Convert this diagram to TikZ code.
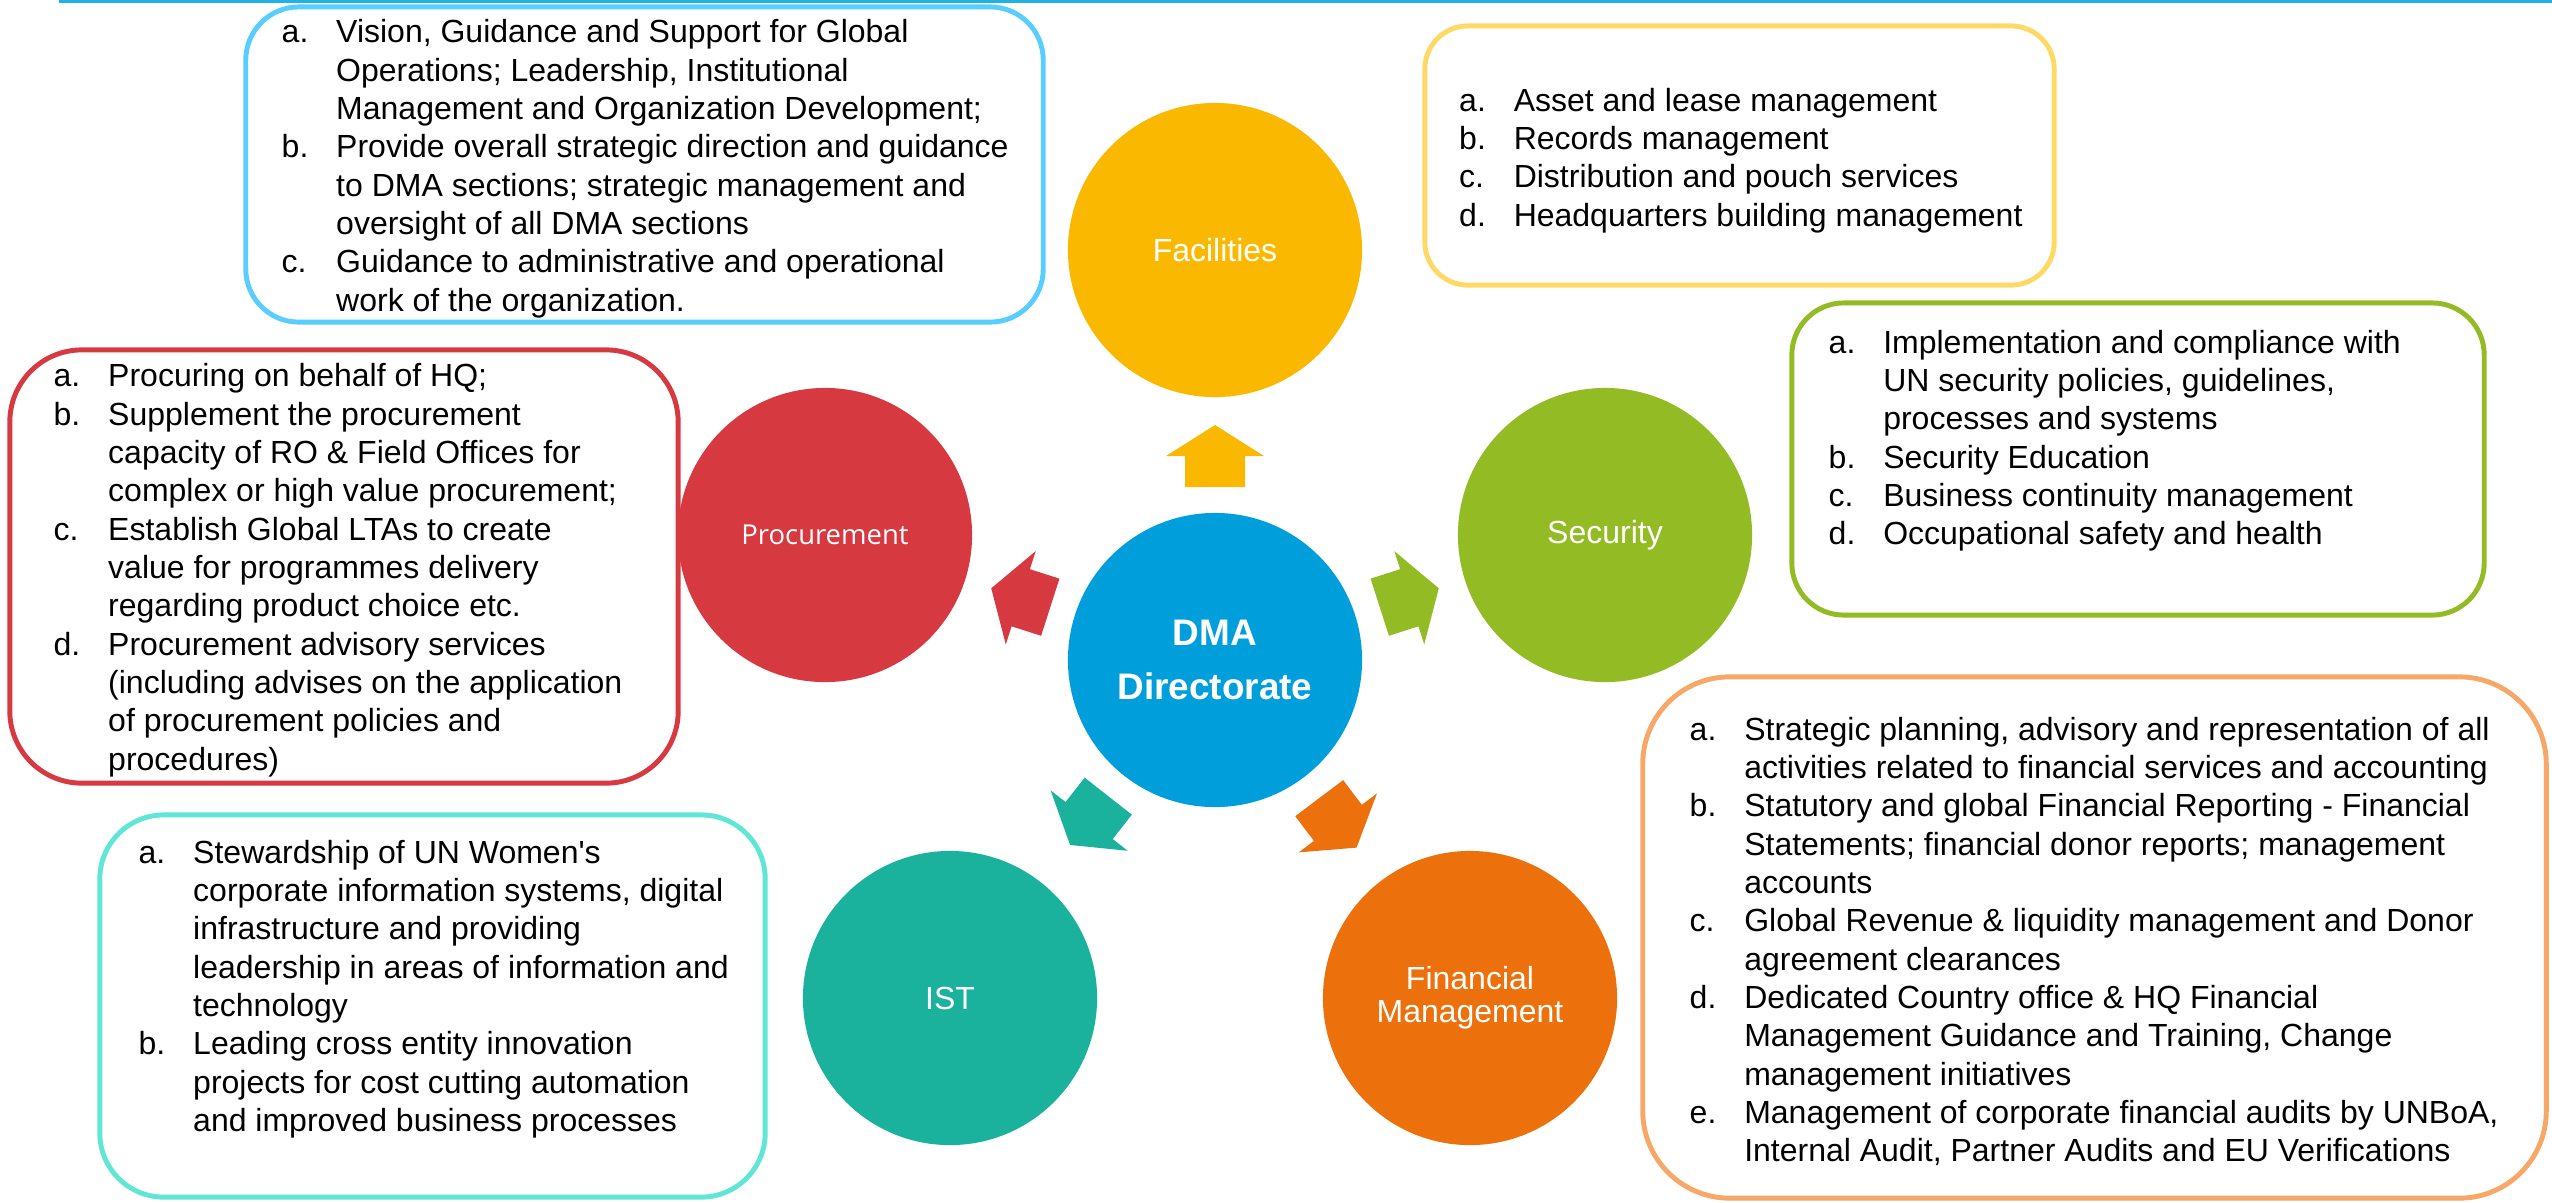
\documentclass[tikz,border=0pt]{standalone}
\usepackage{fontspec}
\setmainfont{Liberation Sans}
\newfontfamily\osans{Open Sans}
\definecolor{cFac}{RGB}{250,185,0}
\definecolor{cProc}{RGB}{214,58,64}
\definecolor{cSec}{RGB}{146,187,36}
\definecolor{cDMA}{RGB}{0,158,219}
\definecolor{cIST}{RGB}{27,178,157}
\definecolor{cFM}{RGB}{236,112,12}
\definecolor{bTop}{RGB}{88,205,255}
\definecolor{bFac}{RGB}{255,217,102}
\definecolor{bProc}{RGB}{214,58,64}
\definecolor{bSec}{RGB}{146,187,36}
\definecolor{bIST}{RGB}{96,230,214}
\definecolor{bFM}{RGB}{247,168,104}
\definecolor{cLine}{RGB}{32,178,230}
\newcommand\itm[1]{\makebox[0.545cm][l]{#1}}
\newcommand\blockarrow[3]{%
  \fill[#3, shift={(#1.center)}, rotate=#2] (173,-30) -- (204,-30) -- (204,-49) -- (235,0) -- (204,49) -- (204,30) -- (173,30) -- cycle;}
\begin{document}
\begin{tikzpicture}[x=0.01cm,y=-0.01cm,
  circ/.style={circle, inner sep=0, minimum size=2.94cm, text=white, font=\fontsize{9.1}{9.4}\selectfont, align=center},
  box/.style={draw, line width=1.4pt, fill=white, inner sep=0, rectangle},
  txt/.style={anchor=base west, inner sep=0, font=\fontsize{9.1}{10.9}\selectfont}]
\useasboundingbox (0,0) rectangle (2552,1202);
\coordinate (lineA) at (59,1);
\coordinate (lineB) at (2552,1);
\draw[cLine, line width=0.9pt] (lineA) -- (lineB);

% boxes
\node[box, draw=bTop, minimum width=7.97cm, minimum height=3.15cm, rounded corners=0.53cm] (topBox) at (644.5,164.5) {};
\node[box, draw=bFac, minimum width=6.29cm, minimum height=2.59cm, rounded corners=0.43cm] (facBox) at (1739.5,155.5) {};
\node[box, draw=bProc, minimum width=6.68cm, minimum height=4.33cm, rounded corners=0.72cm] (procBox) at (344,566.5) {};
\node[box, draw=bSec, minimum width=6.92cm, minimum height=3.12cm, rounded corners=0.52cm] (secBox) at (2138,459) {};
\node[box, draw=bIST, minimum width=6.65cm, minimum height=3.82cm, rounded corners=0.64cm] (istBox) at (432.5,1006) {};
\node[box, draw=bFM, minimum width=9.03cm, minimum height=5.21cm, rounded corners=0.87cm] (fmBox) at (2094.5,937.5) {};

% box texts
\node[txt] (topTxt) at (281,42.7) {\begin{tabular}[t]{@{}l@{}}
\itm{a.}Vision, Guidance and Support for Global\\
\itm{}Operations; Leadership, Institutional\\
\itm{}Management and Organization Development;\\
\itm{b.}Provide overall strategic direction and guidance\\
\itm{}to DMA sections; strategic management and\\
\itm{}oversight of all DMA sections\\
\itm{c.}Guidance to administrative and operational\\
\itm{}work of the organization.
\end{tabular}};
\node[txt] (facTxt) at (1458.5,111) {\begin{tabular}[t]{@{}l@{}}
\itm{a.}Asset and lease management\\
\itm{b.}Records management\\
\itm{c.}Distribution and pouch services\\
\itm{d.}Headquarters building management
\end{tabular}};
\node[txt] (procTxt) at (53,386.7) {\begin{tabular}[t]{@{}l@{}}
\itm{a.}Procuring on behalf of HQ;\\
\itm{b.}Supplement the procurement\\
\itm{}capacity of RO \& Field Offices for\\
\itm{}complex or high value procurement;\\
\itm{c.}Establish Global LTAs to create\\
\itm{}value for programmes delivery\\
\itm{}regarding product choice etc.\\
\itm{d.}Procurement advisory services\\
\itm{}(including advises on the application\\
\itm{}of procurement policies and\\
\itm{}procedures)
\end{tabular}};
\node[txt] (secTxt) at (1828,353) {\begin{tabular}[t]{@{}l@{}}
\itm{a.}Implementation and compliance with\\
\itm{}UN security policies, guidelines,\\
\itm{}processes and systems\\
\itm{b.}Security Education\\
\itm{c.}Business continuity management\\
\itm{d.}Occupational safety and health
\end{tabular}};
\node[txt] (istTxt) at (138,863) {\begin{tabular}[t]{@{}l@{}}
\itm{a.}Stewardship of UN Women\textquotesingle s\\
\itm{}corporate information systems, digital\\
\itm{}infrastructure and providing\\
\itm{}leadership in areas of information and\\
\itm{}technology\\
\itm{b.}Leading cross entity innovation\\
\itm{}projects for cost cutting automation\\
\itm{}and improved business processes
\end{tabular}};
\node[txt] (fmTxt) at (1689,740) {\begin{tabular}[t]{@{}l@{}}
\itm{a.}Strategic planning, advisory and representation of all\\
\itm{}activities related to financial services and accounting\\
\itm{b.}Statutory and global Financial Reporting - Financial\\
\itm{}Statements; financial donor reports; management\\
\itm{}accounts\\
\itm{c.}Global Revenue \& liquidity management and Donor\\
\itm{}agreement clearances\\
\itm{d.}Dedicated Country office \& HQ Financial\\
\itm{}Management Guidance and Training, Change\\
\itm{}management initiatives\\
\itm{e.}Management of corporate financial audits by UNBoA,\\
\itm{}Internal Audit, Partner Audits and EU Verifications
\end{tabular}};

% circles
\node[circ, fill=cDMA, font=\bfseries\fontsize{10.5}{15.4}\selectfont] (dma) at (1215,660) {DMA\\Directorate};
\node[circ, fill=cFac] (fac) at (1215,250) {Facilities};
\node[circ, fill=cProc, font=\osans\fontsize{7.8}{9}\selectfont] (proc) at (825,535) {Procurement};
\node[circ, fill=cSec] (sec) at (1605,535) {Security};
\node[circ, fill=cIST] (ist) at (950,998) {IST};
\node[circ, fill=cFM] (fm) at (1470,998) {Financial\\Management};

% block arrows from DMA towards each section
\blockarrow{dma}{90}{cFac}
\blockarrow{dma}{162.23}{cProc}
\blockarrow{dma}{17.77}{cSec}
\blockarrow{dma}{231.9}{cIST}
\blockarrow{dma}{307.03}{cFM}
\end{tikzpicture}
\end{document}
